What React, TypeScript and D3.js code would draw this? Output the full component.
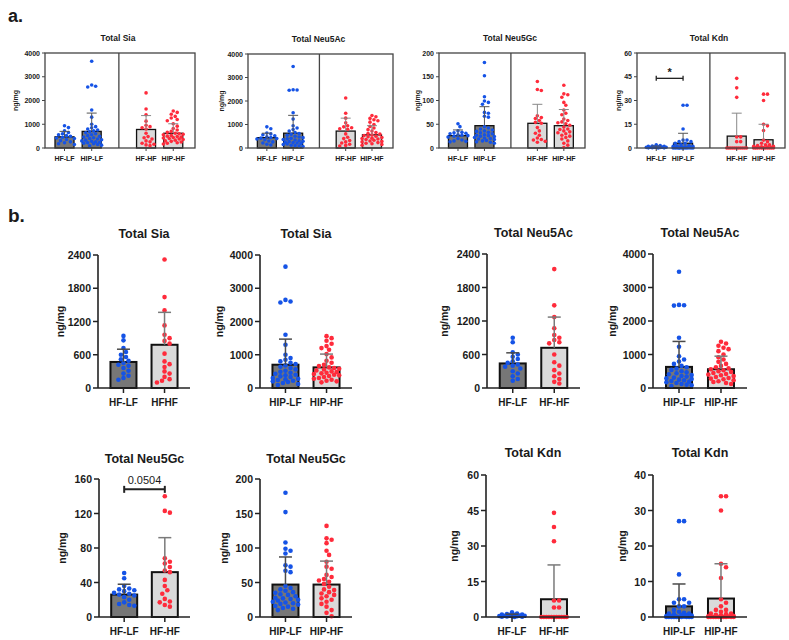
import React from "react";
import * as d3 from "d3";

// ---------- DATA ----------
const groups = ["HF-LF", "HIP-LF", "HF-HF", "HIP-HF"];

// Total Sia (ng/mg)
const siaHFLF = [940, 860, 720, 650, 600, 560, 520, 490, 450, 420, 400, 360, 310, 260, 220, 180, 150];
const siaHIPLF = [3650, 2650, 2600, 2570, 1600, 1300, 1000, 900, 850, 800, 760, 720, 680, 640, 600, 560, 520, 490, 460, 430, 400, 380, 350, 330, 300, 280, 260, 240, 220, 200, 180, 150, 120, 90];
const siaHFHF = [2320, 1640, 1400, 1130, 960, 900, 850, 800, 620, 480, 430, 380, 300, 260, 200, 160, 130, 100];
const siaHIPHF = [1560, 1500, 1420, 1330, 1260, 1200, 1150, 1020, 920, 820, 760, 700, 660, 620, 600, 580, 560, 530, 500, 480, 460, 440, 420, 400, 380, 360, 330, 300, 280, 250, 220, 200, 170];
const siaMean = [470, 700, 780, 620];
const siaSD = [230, 770, 585, 400];

// Total Neu5Ac
const acHFLF = [900, 820, 640, 600, 560, 520, 480, 450, 420, 400, 380, 350, 300, 260, 210, 160, 130];
const acHIPLF = [3470, 2480, 2470, 2460, 1500, 1230, 950, 850, 790, 720, 660, 620, 580, 540, 500, 470, 440, 410, 390, 360, 340, 310, 290, 270, 250, 230, 210, 190, 170, 150, 120, 100, 80, 60];
const acHFHF = [2130, 1480, 1270, 1070, 950, 900, 860, 820, 800, 600, 460, 400, 320, 260, 210, 160, 110, 80];
const acHIPHF = [1380, 1330, 1260, 1200, 1160, 1100, 1000, 920, 850, 780, 720, 660, 620, 590, 560, 530, 500, 480, 450, 420, 400, 380, 360, 330, 300, 280, 260, 230, 200, 180, 150, 120];
const acMean = [440, 630, 720, 560];
const acSD = [190, 760, 550, 390];

// Total Neu5Gc
const gcHFLF = [51, 45, 36, 33, 32, 31, 30, 28, 27, 26, 25, 23, 20, 17, 15, 14, 13];
const gcHIPLF = [180, 152, 108, 99, 96, 92, 75, 73, 67, 65, 45, 42, 40, 38, 36, 35, 33, 32, 30, 28, 27, 26, 25, 24, 22, 21, 20, 19, 18, 16, 15, 13, 12, 10];
const gcHFHF = [140, 123, 121, 68, 64, 62, 58, 54, 52, 43, 36, 31, 27, 21, 18, 17, 14, 12];
const gcHIPHF = [132, 114, 112, 107, 96, 90, 80, 73, 70, 61, 58, 55, 53, 51, 48, 44, 40, 39, 36, 34, 32, 30, 27, 25, 22, 19, 15, 10, 6, 1];
const gcMean = [26, 47, 52, 47];
const gcSD = [12, 40, 40, 34];

// Total Kdn
const kdnHFLF = [2, 1.5, 1.2, 1, 1, 0.8, 0.7, 0.6, 0.5, 0.5, 0.4, 0.3, 0.3, 0.2, 0.1, 0.1, 0];
const kdnHIPLF = [27, 27, 12, 5, 5, 4, 4, 3, 3, 2, 1.5, 1.2, 1, 1, 0.8, 0.6, 0.5, 0.4, 0.3, 0.2, 0.1, 0.1, 0, 0, 0, 0, 0, 0, 0, 0, 0, 0];
const kdnHFHF = [44, 38, 32, 7, 7, 4, 4, 0, 0, 0, 0, 0, 0, 0, 0, 0, 0, 0];
const kdnHIPHF = [34, 34, 30, 15, 14, 11, 5, 4, 3, 2, 2, 1.5, 1, 1, 0.8, 0.6, 0.5, 0.3, 0.2, 0.1, 0, 0, 0, 0, 0, 0, 0, 0, 0, 0];
const kdnMean = [0.6, 3, 7.5, 5.2];
const kdnSD = [0.6, 6.3, 14.5, 9.8];

// Tick labels
const ticksSia4000 = [0, 1000, 2000, 3000, 4000];
const ticksSia2400 = [0, 600, 1200, 1800, 2400];
const ticksGc200 = [0, 50, 100, 150, 200];
const ticksGc160 = [0, 40, 80, 120, 160];
const ticksKdn60 = [0, 15, 30, 45, 60];
const ticksKdn40 = [0, 10, 20, 30, 40];

const titles = ["Total Sia", "Total Neu5Ac", "Total Neu5Gc", "Total Kdn"];

// ---------- STYLE ----------
const FONT = "'Liberation Sans', Arial, Helvetica, sans-serif";
const BLUE = "#1553e6";
const RED = "#ff2b3b";
const DARK = "#777777";
const LIGHT = "#dadada";
const INK = "#1a1a1a";

const metrics = [
  { title: titles[0], data: [siaHFLF, siaHIPLF, siaHFHF, siaHIPHF], mean: siaMean, sd: siaSD },
  { title: titles[1], data: [acHFLF, acHIPLF, acHFHF, acHIPHF], mean: acMean, sd: acSD },
  { title: titles[2], data: [gcHFLF, gcHIPLF, gcHFHF, gcHIPHF], mean: gcMean, sd: gcSD },
  { title: titles[3], data: [kdnHFLF, kdnHIPLF, kdnHFHF, kdnHIPHF], mean: kdnMean, sd: kdnSD },
];

const aTicks = [ticksSia4000, ticksSia4000, ticksGc200, ticksKdn60];

function swarm(vals: number[], y: (v: number) => number, r: number, maxHalf: number) {
  const idx = vals.map((_, i) => i).sort((a, b) => vals[b] - vals[a]);
  const step = r * 1.1;
  const cands = [0];
  for (let k = 1; k * step <= maxHalf; k++) cands.push(k * step, -k * step);
  const placed: { dx: number; cy: number }[] = [];
  const out: { dx: number; cy: number }[] = new Array(vals.length);
  for (const i of idx) {
    const cy = y(vals[i]);
    let best = 0;
    let bestScore = -Infinity;
    for (const c of cands) {
      let minD = Infinity;
      for (const p of placed) {
        const d = Math.hypot(p.dx - c, p.cy - cy);
        if (d < minD) minD = d;
      }
      if (minD >= 2 * r * 0.95) {
        best = c;
        break;
      }
      if (minD > bestScore) {
        bestScore = minD;
        best = c;
      }
    }
    placed.push({ dx: best, cy });
    out[i] = { dx: best, cy };
  }
  return out;
}

// ---------- PANEL A ----------
const aLayout = [
  { x: 45, y: 53, w: 150, h: 95, yl: 15 },
  { x: 248, y: 54, w: 145, h: 94, yl: 221 },
  { x: 439, y: 53, w: 146, h: 95, yl: 417 },
  { x: 637, y: 53, w: 148, h: 95, yl: 618 },
];

function PanelA({ mi }: { mi: number }) {
  const m = metrics[mi];
  const L = aLayout[mi];
  const ticks = aTicks[mi];
  const y = d3.scaleLinear().domain([0, ticks[ticks.length - 1]]).range([L.y + L.h, L.y]);
  const x = d3
    .scalePoint<string>()
    .domain(["HF-LF", "HIP-LF", "gap", "HF-HF", "HIP-HF"])
    .range([L.x + L.w * 0.13, L.x + L.w * 0.855]);
  const bw = 19;
  const r = 1.8;
  const divX = x("gap")!;
  return (
    <g>
      <text x={L.x + L.w / 2 - 2} y={L.y - 12} textAnchor="middle" fontFamily={FONT} fontWeight="bold" fontSize={8.5} fill={INK}>
        {m.title}
      </text>
      <text
        transform={`translate(${L.yl},${L.y + L.h / 2}) rotate(-90)`}
        textAnchor="middle"
        dominantBaseline="central"
        fontFamily={FONT}
        fontWeight="bold"
        fontSize={7}
        fill={INK}
      >
        ng/mg
      </text>
      {ticks.map((t) => (
        <g key={t}>
          <line x1={L.x - 3} x2={L.x} y1={y(t)} y2={y(t)} stroke="#444" strokeWidth={1} />
          <text x={L.x - 5} y={y(t)} textAnchor="end" dominantBaseline="central" fontFamily={FONT} fontWeight="bold" fontSize={7} fill={INK}>
            {t}
          </text>
        </g>
      ))}
      {groups.map((g, gi) => {
        const cx = x(g)!;
        const vals = m.data[gi];
        const pts = swarm(vals, y, r, bw / 2 + 1);
        const fill = gi < 2 ? DARK : LIGHT;
        const col = gi < 2 ? BLUE : RED;
        const top = y(m.mean[gi]);
        const eTop = y(m.mean[gi] + m.sd[gi]);
        return (
          <g key={g}>
            <rect x={cx - bw / 2} y={top} width={bw} height={y(0) - top} fill={fill} stroke="#111" strokeWidth={1.3} />
            {pts.map((p, i) => (
              <circle key={i} cx={cx + p.dx} cy={p.cy} r={r} fill={col} />
            ))}
            <line x1={cx} x2={cx} y1={top} y2={eTop} stroke={gi < 2 ? "#555" : "#888"} strokeWidth={1} />
            <line x1={cx - 5} x2={cx + 5} y1={eTop} y2={eTop} stroke={gi < 2 ? "#555" : "#888"} strokeWidth={1} />
            <line x1={cx} x2={cx} y1={L.y + L.h} y2={L.y + L.h + 3} stroke="#444" strokeWidth={1} />
            <text x={cx} y={L.y + L.h + 10} textAnchor="middle" dominantBaseline="central" fontFamily={FONT} fontWeight="bold" fontSize={7} fill={INK}>
              {g}
            </text>
          </g>
        );
      })}
      <rect x={L.x} y={L.y} width={L.w} height={L.h} fill="none" stroke="#444" strokeWidth={1.3} />
      <line x1={divX} x2={divX} y1={L.y} y2={L.y + L.h} stroke="#444" strokeWidth={1.3} />
      {mi === 3 && (
        <g>
          <line x1={x("HF-LF")!} x2={x("HIP-LF")!} y1={y(44)} y2={y(44)} stroke="#222" strokeWidth={1.3} />
          <line x1={x("HF-LF")!} x2={x("HF-LF")!} y1={y(44) - 2.5} y2={y(44) + 2.5} stroke="#222" strokeWidth={1.3} />
          <line x1={x("HIP-LF")!} x2={x("HIP-LF")!} y1={y(44) - 2.5} y2={y(44) + 2.5} stroke="#222" strokeWidth={1.3} />
          <text x={(x("HF-LF")! + x("HIP-LF")!) / 2} y={y(44) - 2} textAnchor="middle" fontFamily={FONT} fontWeight="bold" fontSize={11} fill={INK}>
            *
          </text>
        </g>
      )}
    </g>
  );
}

// ---------- PANEL B ----------
const bCharts = [
  { mi: 0, pair: [0, 2], labels: ["HF-LF", "HFHF"], ticks: ticksSia2400, x: 98, y: 255, w: 92, h: 133, yl: 60, ty: 238 },
  { mi: 0, pair: [1, 3], labels: ["HIP-LF", "HIP-HF"], ticks: ticksSia4000, x: 260, y: 255, w: 92, h: 133, yl: 219, ty: 238 },
  { mi: 1, pair: [0, 2], labels: ["HF-LF", "HF-HF"], ticks: ticksSia2400, x: 487, y: 254, w: 93, h: 134, yl: 444, ty: 237 },
  { mi: 1, pair: [1, 3], labels: ["HIP-LF", "HIP-HF"], ticks: ticksSia4000, x: 653, y: 254, w: 94, h: 134, yl: 612, ty: 237 },
  { mi: 2, pair: [0, 2], labels: ["HF-LF", "HF-HF"], ticks: ticksGc160, x: 99, y: 479, w: 91, h: 138, yl: 62, ty: 463 },
  { mi: 2, pair: [1, 3], labels: ["HIP-LF", "HIP-HF"], ticks: ticksGc200, x: 260, y: 479, w: 92, h: 138, yl: 224, ty: 463 },
  { mi: 3, pair: [0, 2], labels: ["HF-LF", "HF-HF"], ticks: ticksKdn60, x: 486, y: 475, w: 94, h: 142, yl: 454, ty: 457 },
  { mi: 3, pair: [1, 3], labels: ["HIP-LF", "HIP-HF"], ticks: ticksKdn40, x: 653, y: 475, w: 94, h: 142, yl: 622, ty: 457 },
];

function PanelB({ ci }: { ci: number }) {
  const C = bCharts[ci];
  const m = metrics[C.mi];
  const y = d3.scaleLinear().domain([0, C.ticks[C.ticks.length - 1]]).range([C.y + C.h, C.y]);
  const x = d3.scalePoint<string>().domain(C.labels).range([C.x, C.x + C.w]).padding(0.62);
  const bw = 26;
  const r = 2.3;
  const base = C.y + C.h;
  return (
    <g>
      <text x={C.x + C.w / 2} y={C.ty} textAnchor="middle" fontFamily={FONT} fontWeight="bold" fontSize={12.5} fill={INK}>
        {m.title}
      </text>
      <text
        transform={`translate(${C.yl},${C.y + C.h / 2}) rotate(-90)`}
        textAnchor="middle"
        dominantBaseline="central"
        fontFamily={FONT}
        fontWeight="bold"
        fontSize={10.5}
        fill={INK}
      >
        ng/mg
      </text>
      {C.ticks.map((t) => (
        <g key={t}>
          <line x1={C.x - 5} x2={C.x} y1={y(t)} y2={y(t)} stroke="#222" strokeWidth={1.5} />
          <text x={C.x - 7} y={y(t)} textAnchor="end" dominantBaseline="central" fontFamily={FONT} fontWeight="bold" fontSize={10.5} fill={INK}>
            {t}
          </text>
        </g>
      ))}
      {C.pair.map((gi, k) => {
        const lab = C.labels[k];
        const cx = x(lab)!;
        const vals = m.data[gi];
        const pts = swarm(vals, y, r, bw / 2 + 1.5);
        const fill = gi < 2 ? DARK : LIGHT;
        const col = gi < 2 ? BLUE : RED;
        const top = y(m.mean[gi]);
        const eTop = y(m.mean[gi] + m.sd[gi]);
        const ec = gi < 2 ? "#4a4a4a" : "#7a7a7a";
        return (
          <g key={lab}>
            <rect x={cx - bw / 2} y={top} width={bw} height={base - top} fill={fill} stroke="#111" strokeWidth={2} />
            {pts.map((p, i) => (
              <circle key={i} cx={cx + p.dx} cy={p.cy} r={r} fill={col} />
            ))}
            <line x1={cx} x2={cx} y1={top} y2={eTop} stroke={ec} strokeWidth={1.5} />
            <line x1={cx - 6.5} x2={cx + 6.5} y1={eTop} y2={eTop} stroke={ec} strokeWidth={1.5} />
            <line x1={cx} x2={cx} y1={base} y2={base + 5} stroke="#222" strokeWidth={1.5} />
            <text x={cx} y={base + 14} textAnchor="middle" dominantBaseline="central" fontFamily={FONT} fontWeight="bold" fontSize={10} fill={INK}>
              {lab}
            </text>
          </g>
        );
      })}
      <line x1={C.x} x2={C.x} y1={C.y} y2={base} stroke="#222" strokeWidth={1.6} />
      <line x1={C.x} x2={C.x + C.w} y1={base} y2={base} stroke="#222" strokeWidth={1.6} />
      {ci === 4 && (
        <g>
          <line x1={x(C.labels[0])!} x2={x(C.labels[1])!} y1={y(148)} y2={y(148)} stroke="#222" strokeWidth={2} />
          <line x1={x(C.labels[0])!} x2={x(C.labels[0])!} y1={y(148) - 3.5} y2={y(148) + 3.5} stroke="#222" strokeWidth={2} />
          <line x1={x(C.labels[1])!} x2={x(C.labels[1])!} y1={y(148) - 3.5} y2={y(148) + 3.5} stroke="#222" strokeWidth={2} />
          <text x={(x(C.labels[0])! + x(C.labels[1])!) / 2} y={y(148) - 5} textAnchor="middle" fontFamily={FONT} fontSize={11} fill={INK}>
            0.0504
          </text>
        </g>
      )}
    </g>
  );
}

export default function App() {
  return (
    <div style={{ position: "absolute", left: 0, top: 0 }}>
      <svg width={789} height={640} style={{ display: "block", background: "#fff" }}>
        <text x={8} y={22} fontFamily={FONT} fontWeight="bold" fontSize={18} fill={INK}>
          a.
        </text>
        <text x={8} y={222} fontFamily={FONT} fontWeight="bold" fontSize={19} fill={INK}>
          b.
        </text>
        {[0, 1, 2, 3].map((i) => (
          <PanelA key={i} mi={i} />
        ))}
        {bCharts.map((_, i) => (
          <PanelB key={i} ci={i} />
        ))}
      </svg>
    </div>
  );
}
